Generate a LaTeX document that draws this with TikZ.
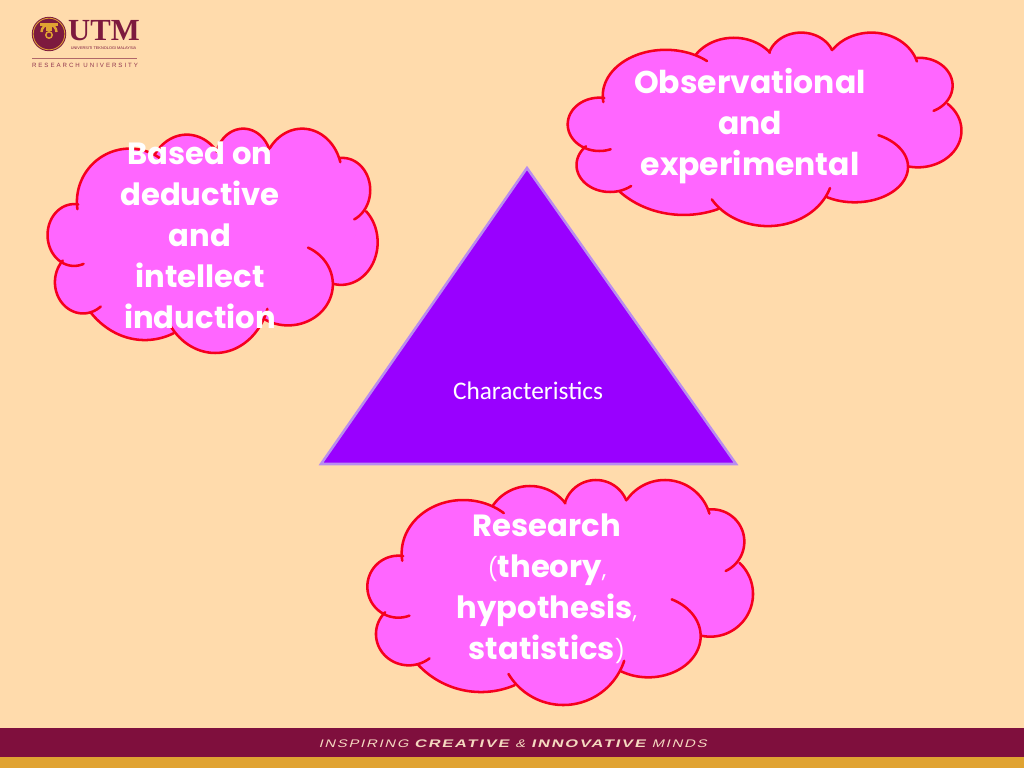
\documentclass[tikz,border=0pt]{standalone}
\usepackage{fontspec}
\setmainfont{Poppins}
\newfontfamily\thinpart{Poppins}
\newfontfamily\calib{Carlito}
\newfontfamily\logoserif{Liberation Serif}
\newfontfamily\logosans{Liberation Sans}
\newfontfamily\logospaced[LetterSpace=32]{Liberation Sans}
\newfontfamily\barlight[FakeSlant=0.3,FakeStretch=1.35,LetterSpace=16]{Liberation Sans}
\newfontfamily\barbold[FakeSlant=0.25,FakeStretch=1.5,LetterSpace=16]{Liberation Sans Bold}
\definecolor{paper}{HTML}{FFDBAC}
\definecolor{cloudfill}{HTML}{FF66FF}
\definecolor{cloudline}{HTML}{F5001E}
\definecolor{maroon}{HTML}{7F0F3D}
\definecolor{logomaroon}{HTML}{7D1A3E}
\definecolor{gold}{HTML}{E0A332}
\definecolor{violet}{HTML}{9900FF}
\definecolor{violetedge}{HTML}{B98CF0}
\definecolor{barlabel}{HTML}{F5D8C0}
\tikzset{
  x=.75pt,y=-.75pt,
  cloudtext/.style={text=white,align=center,font=\fontsize{23}{30.75}\selectfont\bfseries,inner sep=0pt},
  lobefill/.style={fill=cloudfill,draw=cloudfill,line width=.6pt},
  lobeline/.style={draw=cloudline,line width=1.9pt,line cap=round,line join=round},
}
\newcommand\thinmark[1]{{\thinpart\mdseries\fontsize{17}{20}\selectfont #1}}
% lobe: centre x, centre y, radius x, radius y, start angle, end angle (clockwise on the page)
\newcommand\FillLobe[6]{\path[lobefill] plot[domain=#5:#6,samples=50,smooth] ({#1+#3*cos(\x)},{#2+#4*sin(\x)}) -- cycle;}
\newcommand\DrawLobe[6]{\draw[lobeline] plot[domain=#5:#6,samples=50,smooth] ({#1+#3*cos(\x)},{#2+#4*sin(\x)});}
\newcommand\CloudLobes[1]{%
  #1{340}{250}{185}{160}{172}{311}%
  #1{540}{183}{135}{135}{215}{322}%
  #1{738}{128}{98}{98}{197}{338}%
  #1{944.5}{169}{139}{139}{215}{344}%
  #1{1086}{215}{97}{97}{265}{425}%
  #1{1081}{372}{128}{128}{313}{462}%
  #1{895}{498.5}{157}{123.5}{296.5}{481}%
  #1{640}{513}{192}{192}{18}{149}%
  #1{393}{407.5}{258.6}{258.6}{67}{137}%
  #1{176.5}{492}{98.6}{94}{51}{224}%
  #1{145}{350}{93}{93}{69}{279}%
}
\newcommand\CloudShape[4]{%
  \begin{scope}[shift={(#1*.75pt,-#2*.75pt)},x=#3*.25pt,y=-#4*.25pt]
    \CloudLobes{\FillLobe}
    \path[lobefill] (162,272) -- (430,105) -- (648,100) -- (830,90) -- (1078,118) -- (1168,278) -- (1055,497) -- (815,605) -- (495,645) -- (205,585) -- (105,428) -- cycle;
    \CloudLobes{\DrawLobe}
  \end{scope}}
\begin{document}
\begin{tikzpicture}
\useasboundingbox (0,0) rectangle (1024,768);
\fill[paper] (0,0) rectangle (1024,768);
% logo
\fill[logomaroon] (49,34) circle (17.2);
\draw[gold,line width=.6pt] (49,34) circle (15.8);
\fill[gold] (40,22.5) rectangle (58,25.5);
\fill[gold] (46,25) rectangle (52,31);
\draw[gold,line width=1.8pt] (41.5,32) arc (180:360:7.5);
\draw[gold,line width=1.1pt] (49,35) circle (3.2);
\node[inner sep=0pt,text=logomaroon,font=\logoserif\bfseries\fontsize{23}{24}\selectfont] (utm) at (104,30.5) {UTM};
\node[inner sep=0pt,text=logomaroon,font=\logosans\fontsize{2.9}{3}\selectfont] (utmname) at (103.5,48) {UNIVERSITI TEKNOLOGI MALAYSIA};
\draw[logomaroon!60!paper,line width=.4pt] (32,58.5) -- (137,58.5);
\node[inner sep=0pt,text=logomaroon!85!paper,font=\logospaced\fontsize{4.6}{5}\selectfont] (utmres) at (85,65.5) {RESEARCH UNIVERSITY};
% footer
\fill[maroon] (0,728) rectangle (1024,757);
\fill[gold] (0,757) rectangle (1024,768);
\node[inner sep=0pt,text=barlabel,font=\fontsize{8.25}{10}\selectfont] (slogan) at (512.5,743.5) {{\barlight INSPIRING }{\barbold CREATIVE }{\barlight \& }{\barbold INNOVATIVE }{\barlight MINDS}};
% triangle
\draw[fill=violet,draw=violetedge,line width=1.9pt,line join=miter] (527,168) -- (736,464) -- (321,464) -- cycle;
\node[inner sep=0pt,text=white,font=\calib\fontsize{19}{22}\selectfont] (char) at (528,391) {Characteristics};
% clouds
\CloudShape{32.7}{118.7}{.856}{.997}
\CloudShape{550}{24}{1.021}{.86}
\CloudShape{350}{470}{1}{1}
\node[cloudtext] (left) at (200,235) {Based on\\deductive\\and\\intellect\\induction};
\node[cloudtext,font=\fontsize{23.6}{30.75}\selectfont\bfseries] (right) at (750,126) {Observational\\and\\experimental};
\node[cloudtext] (bottom) at (547,589) {Research\\\thinmark{(}theory\thinmark{,}\\hypothesis\thinmark{,}\\statistics\thinmark{)}};
\end{tikzpicture}
\end{document}
